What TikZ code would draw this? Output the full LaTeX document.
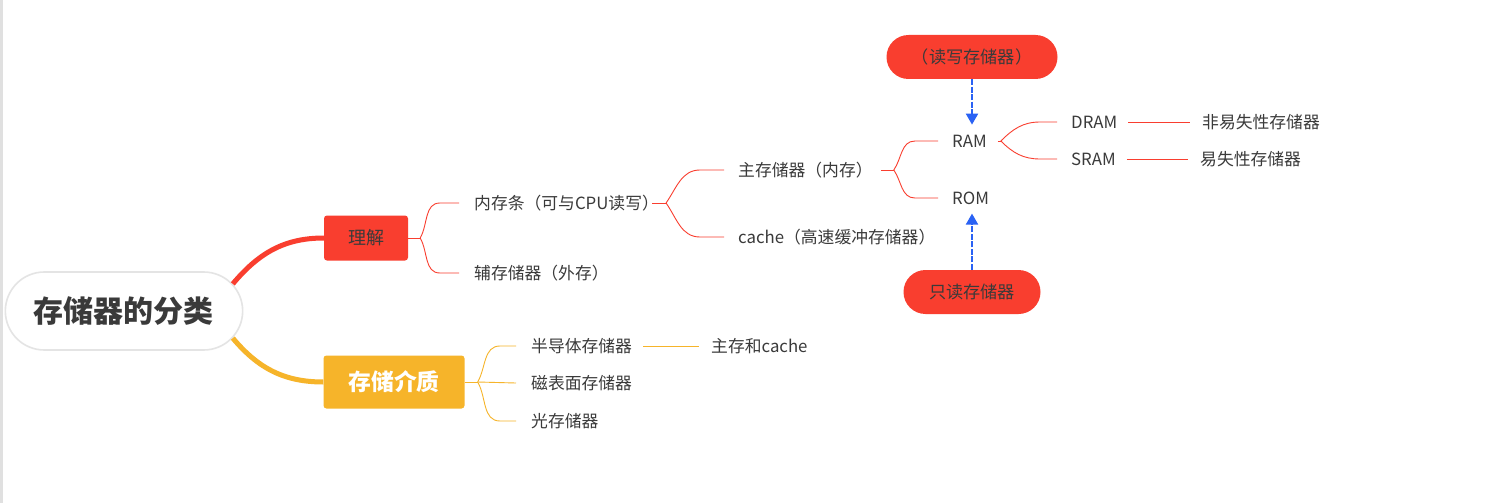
\documentclass[tikz,border=0pt]{standalone}
\usepackage{fontspec}
\setmainfont{Noto Sans CJK SC}
\usetikzlibrary{arrows.meta,positioning,shapes.misc}
\definecolor{mapred}{HTML}{F93E2F}
\definecolor{maporange}{HTML}{F6B42A}
\definecolor{mapblue}{HTML}{2A62F4}
\definecolor{inkgray}{HTML}{3A3A3A}
\definecolor{edgegray}{HTML}{E4E4E4}

\begin{document}
\begin{tikzpicture}[x=1pt,y=1pt,
  rootnode/.style={rounded rectangle,draw=edgegray,line width=1.6pt,fill=white,
    minimum width=244pt,minimum height=78pt,font=\fontsize{30}{35}\selectfont\bfseries,text=inkgray},
  topic/.style={rectangle,rounded corners=3pt,inner sep=0pt},
  leaf/.style={anchor=west,inner xsep=0pt,inner ysep=2pt,font=\fontsize{16.8}{20}\selectfont,text=inkgray},
  tag/.style={rounded rectangle,fill=mapred,minimum height=44pt,inner sep=0pt,
    font=\fontsize{17.2}{20}\selectfont,text=inkgray},
  thinline/.style={line width=0.9pt},
  boldline/.style={line width=5pt},
  arrb/.style={-{Triangle[width=12pt,length=11pt]},mapblue,line width=2pt,dash pattern=on 6pt off 1.5pt}]
  \useasboundingbox (0,0) rectangle (1497,-503);
  \fill[white] (0,0) rectangle (1497,-503);
  \fill[black!12] (0,0) rectangle (3,-503);

  \node[rootnode] (fenlei) at (124,-311) {存储器的分类};
  \node[topic,fill=mapred,minimum width=84pt,minimum height=45pt,
    font=\fontsize{18}{21}\selectfont,text=inkgray] (lijie) at (366,-238) {理解};
  \node[topic,fill=maporange,minimum width=141pt,minimum height=53pt,
    font=\fontsize{22.8}{27}\selectfont\bfseries,text=white] (jiezhi) at (394,-382) {存储介质};

  \node[leaf] (neicun) at (474,-203) {内存条（可与CPU读写）};
  \node[leaf] (fucun) at (474,-273) {辅存储器（外存）};
  \node[leaf] (zhucun) at (738,-170) {主存储器（内存）};
  \node[leaf] (cache) at (738,-237) {cache（高速缓冲存储器）};
  \node[leaf] (ram) at (952,-141) {RAM};
  \node[leaf] (rom) at (952,-198) {ROM};
  \node[leaf] (dram) at (1071,-122) {DRAM};
  \node[leaf] (sram) at (1071,-159) {SRAM};
  \node[leaf] (feiyishi) at (1202,-122) {非易失性存储器};
  \node[leaf] (yishi) at (1200,-159) {易失性存储器};
  \node[leaf] (bandaoti) at (531,-346) {半导体存储器};
  \node[leaf] (cibiao) at (531,-383) {磁表面存储器};
  \node[leaf] (guang) at (531,-421) {光存储器};
  \node[leaf] (zhucache) at (711,-346) {主存和cache};

  \node[tag,minimum width=171pt] (duxie) at (972,-57) {（读写存储器）};
  \node[tag,minimum width=137pt] (zhidu) at (972,-292) {只读存储器};

  \draw[mapred,boldline] (fenlei.14) to[out=50,in=180] (lijie.west);
  \draw[maporange,boldline] (fenlei.-14) to[out=-50,in=180] (jiezhi.west);

  \coordinate[right=12pt of lijie.east] (f1);
  \coordinate[right=7pt of neicun.east] (f2);
  \coordinate[right=21pt of zhucun.east] (f3);
  \coordinate[right=14pt of ram.east] (f4);
  \coordinate[right=13pt of jiezhi.east] (f5);

  \draw[mapred,thinline] (lijie.east) -- (f1);
  \foreach \n/\a in {neicun/60,fucun/-60}
    \draw[mapred,thinline] (f1) to[out=\a,in=180] ([xshift=-34pt]\n.west) -- ([xshift=-15pt]\n.west);
  \draw[mapred,thinline] ([xshift=-7pt]neicun.east) -- (f2);
  \foreach \n/\a in {zhucun/55,cache/-55}
    \draw[mapred,thinline] (f2) to[out=\a,in=180] ([xshift=-38pt]\n.west) -- ([xshift=-14pt]\n.west);
  \draw[mapred,thinline] ([xshift=8pt]zhucun.east) -- (f3);
  \foreach \n/\a in {ram/55,rom/-55}
    \draw[mapred,thinline] (f3) to[out=\a,in=180] ([xshift=-37pt]\n.west) -- ([xshift=-14pt]\n.west);
  \draw[mapred,thinline] ([xshift=11pt]ram.east) -- (f4);
  \foreach \n/\a in {dram/45,sram/-45}
    \draw[mapred,thinline] (f4) to[out=\a,in=180] ([xshift=-31pt]\n.west) -- ([xshift=-14pt]\n.west);
  \draw[mapred,thinline] ([xshift=11pt]dram.east) -- ([xshift=-12pt]feiyishi.west);
  \draw[mapred,thinline] ([xshift=11pt]sram.east) -- ([xshift=-12pt]yishi.west);

  \draw[maporange,thinline] (jiezhi.east) -- (f5);
  \foreach \n/\a in {bandaoti/60,guang/-60}
    \draw[maporange,thinline] (f5) to[out=\a,in=180] ([xshift=-31pt]\n.west) -- ([xshift=-15pt]\n.west);
  \draw[maporange,thinline] (f5) -- ([xshift=-15pt]cibiao.west);
  \draw[maporange,thinline] ([xshift=11pt]bandaoti.east) -- ([xshift=-12pt]zhucache.west);

  \draw[arrb] (duxie.south) -- ([yshift=8pt]duxie.south |- ram.north);
  \draw[arrb] (zhidu.north) -- ([yshift=-7pt]zhidu.north |- rom.south);
\end{tikzpicture}
\end{document}
